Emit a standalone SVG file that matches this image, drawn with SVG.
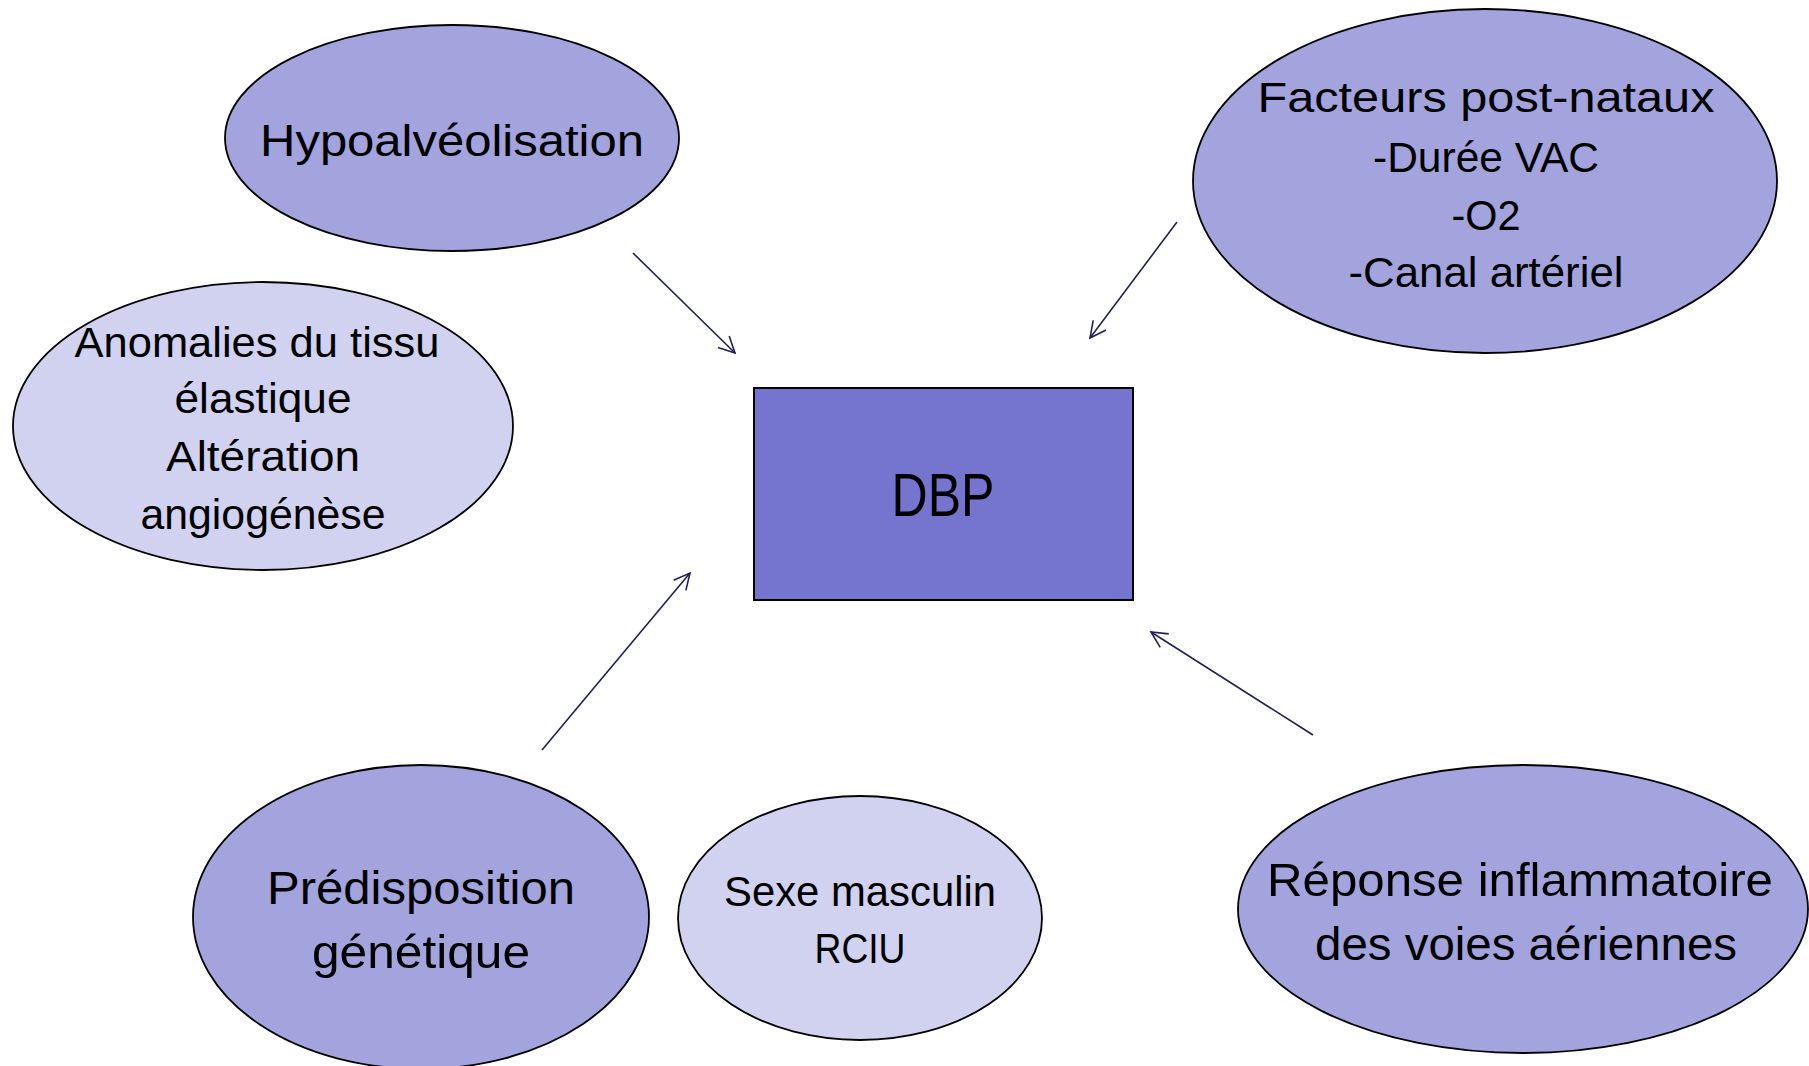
<svg xmlns="http://www.w3.org/2000/svg" width="1809" height="1066" viewBox="0 0 1809 1066">
<style>
.mid{fill:#A3A3DE;stroke:#000;stroke-width:1.8}
.light{fill:#D1D1F0;stroke:#000;stroke-width:1.8}
.box{fill:#7575CF;stroke:#000;stroke-width:2}
text{font-family:"Liberation Sans",Arial,sans-serif;fill:#000;text-anchor:middle}
.s{font-size:42px}
.m{font-size:45px}
.l{font-size:47px}
.conn line{stroke:#1F1F5C;stroke-width:1.6;fill:none}
</style>
<defs>
<marker id="arr" viewBox="0 0 20 20" refX="18" refY="10" markerWidth="20" markerHeight="20" markerUnits="userSpaceOnUse" orient="auto">
<path d="M2,2 L18,10 L2,18" fill="none" stroke="#1F1F5C" stroke-width="1.6"/>
</marker>
</defs>
<rect width="1809" height="1066" fill="#fff"/>
<g id="hypo">
<ellipse class="mid" cx="452" cy="138" rx="227" ry="113"/>
<text class="m" x="452" y="156" textLength="384" lengthAdjust="spacingAndGlyphs">Hypoalvéolisation</text>
</g>
<g id="anomalies">
<ellipse class="light" cx="263" cy="426" rx="250" ry="144"/>
<text class="s" x="257" y="357" textLength="365" lengthAdjust="spacingAndGlyphs">Anomalies du tissu</text>
<text class="s" x="263" y="413" textLength="177" lengthAdjust="spacingAndGlyphs">élastique</text>
<text class="s" x="263" y="471" textLength="194" lengthAdjust="spacingAndGlyphs">Altération</text>
<text class="s" x="263" y="529" textLength="245" lengthAdjust="spacingAndGlyphs">angiogénèse</text>
</g>
<g id="facteurs">
<ellipse class="mid" cx="1485" cy="181" rx="292" ry="172"/>
<text class="s" x="1486" y="112" textLength="457" lengthAdjust="spacingAndGlyphs">Facteurs post-nataux</text>
<text class="s" x="1486" y="172" textLength="226" lengthAdjust="spacingAndGlyphs">-Durée VAC</text>
<text class="s" x="1486" y="230" textLength="69" lengthAdjust="spacingAndGlyphs">-O2</text>
<text class="s" x="1486" y="287" textLength="275" lengthAdjust="spacingAndGlyphs">-Canal artériel</text>
</g>
<g id="dbp">
<rect class="box" x="754" y="388" width="379" height="212"/>
<text x="943" y="516" font-size="62" textLength="103" lengthAdjust="spacingAndGlyphs">DBP</text>
</g>
<g id="predisposition">
<ellipse class="mid" cx="421" cy="917" rx="228" ry="152"/>
<text class="l" x="421" y="904" textLength="308" lengthAdjust="spacingAndGlyphs">Prédisposition</text>
<text class="l" x="421" y="968" textLength="218" lengthAdjust="spacingAndGlyphs">génétique</text>
</g>
<g id="sexe">
<ellipse class="light" cx="860" cy="918" rx="182" ry="122"/>
<text class="s" x="860" y="906" textLength="272" lengthAdjust="spacingAndGlyphs">Sexe masculin</text>
<text class="s" x="860" y="963" textLength="91" lengthAdjust="spacingAndGlyphs">RCIU</text>
</g>
<g id="reponse">
<ellipse class="mid" cx="1523" cy="909" rx="285" ry="144"/>
<text class="l" x="1520" y="896" textLength="506" lengthAdjust="spacingAndGlyphs">Réponse inflammatoire</text>
<text class="l" x="1526" y="960" textLength="422" lengthAdjust="spacingAndGlyphs">des voies aériennes</text>
</g>
<g id="connectors" class="conn">
<line x1="633" y1="253" x2="735" y2="353" marker-end="url(#arr)"/>
<line x1="1177" y1="222" x2="1090" y2="338" marker-end="url(#arr)"/>
<line x1="542" y1="750" x2="690" y2="573" marker-end="url(#arr)"/>
<line x1="1313" y1="735" x2="1151" y2="632" marker-end="url(#arr)"/>
</g>
</svg>
